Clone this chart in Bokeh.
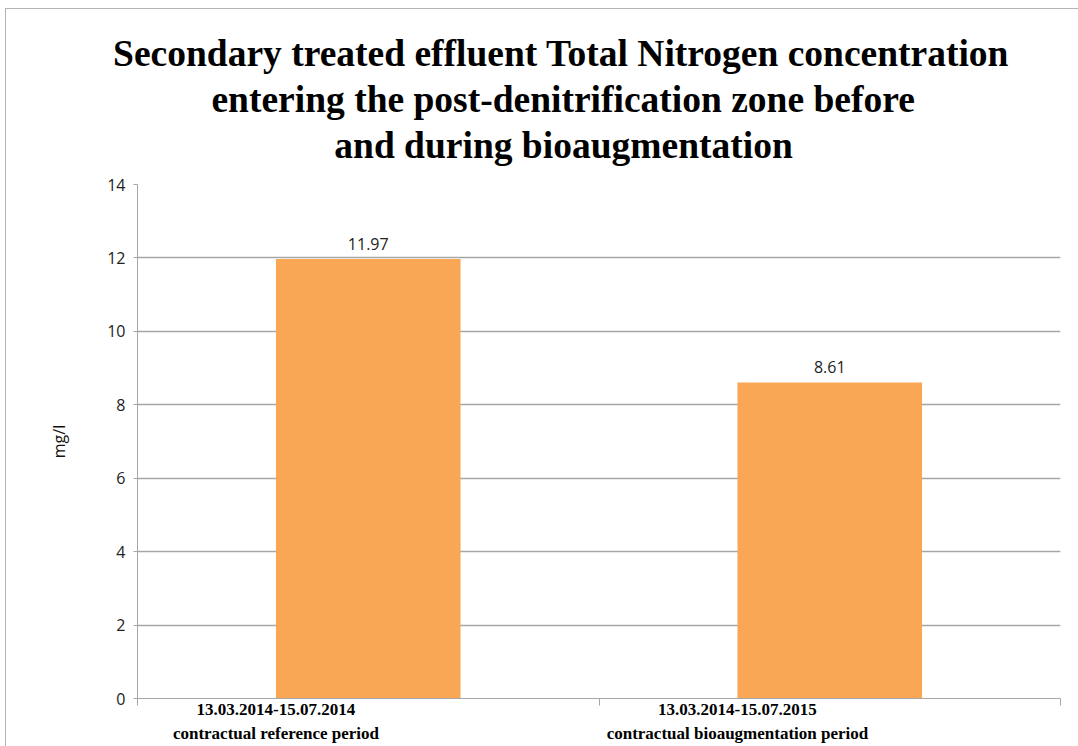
from bokeh.plotting import figure
from bokeh.models import Range1d, FixedTicker, LinearAxis, Title, ColumnDataSource
from bokeh.embed import file_html
from bokeh.resources import INLINE

# ---- data ----
categories = [
    "13.03.2014-15.07.2014\ncontractual reference period",
    "13.03.2014-15.07.2015\ncontractual bioaugmentation period",
]
values = [11.97, 8.61]
value_labels = ["11.97", "8.61"]
y_ticks = [0, 2, 4, 6, 8, 10, 12, 14]
title_lines = [
    "Secondary treated effluent Total Nitrogen concentration",
    "entering the post-denitrification zone before",
    "and during bioaugmentation",
]
y_label = "mg/l"

# ---- geometry helpers (category slots of width 10) ----
slot = 10
bar_w = 4
centers = [slot * i + slot / 2 for i in range(len(categories))]
lefts = [c - bar_w / 2 for c in centers]

GRID = "#a6a6a6"
ORANGE = "#FAA755"

FL, FR, FT, FB = 137, 18, 184, 46
W, H = 1078, 746
TITLE_PX = 37.5
TITLE_CENTER = 563

# approximate Times/Liberation Serif Bold advance widths (per 1000 em)
_TB = {' ': 250, '-': 333, 'S': 556, 'T': 667, 'N': 722, 'a': 500, 'b': 556, 'c': 444,
       'd': 556, 'e': 444, 'f': 333, 'g': 500, 'h': 556, 'i': 278, 'k': 556, 'l': 278,
       'm': 833, 'n': 556, 'o': 500, 'p': 556, 'r': 444, 's': 389, 't': 333, 'u': 556,
       'v': 500, 'y': 500, 'z': 444}


def text_w(s, px):
    return sum(_TB.get(ch, 500) for ch in s) / 1000 * px


p = figure(width=W, height=H, output_backend="svg", toolbar_location=None,
           title=None,
           x_range=Range1d(0, slot * len(categories)), y_range=Range1d(0, 14),
           min_border_left=FL, min_border_right=FR, min_border_top=FT,
           min_border_bottom=FB, outline_line_color=None,
           border_fill_color=None, background_fill_color="white",
           styles={"background": "linear-gradient(#b4b4b4,#b4b4b4) 5px 8px / 1px 100% no-repeat, "
                                 "linear-gradient(#b4b4b4,#b4b4b4) 5px 8px / 100% 1px no-repeat, white"})

src = ColumnDataSource(dict(x=centers, top=values, label=value_labels))
p.vbar(x="x", top="top", width=bar_w, source=src, fill_color=ORANGE, line_color=None)
p.text(x="x", y="top", text="label", source=src, text_align="center",
       text_baseline="bottom", y_offset=-9, text_font_size="16px",
       text_color="#222222", text_font={"value": "Open Sans"})

# y axis
ya = p.yaxis[0]
ya.ticker = FixedTicker(ticks=y_ticks)
ya.axis_line_color = GRID
ya.major_tick_line_color = GRID
ya.major_tick_out = 4
ya.major_tick_in = 0
ya.minor_tick_line_color = None
ya.major_label_text_font = "Open Sans"
ya.major_label_text_font_size = "16px"
ya.major_label_text_color = "#222222"
ya.major_label_standoff = 8
ya.axis_label = y_label
ya.axis_label_text_font = "Open Sans"
ya.axis_label_text_font_size = "16px"
ya.axis_label_text_font_style = "normal"
ya.axis_label_text_color = "#111111"
ya.axis_label_standoff = 34

# x axis: separators
xa = p.xaxis[0]
xa.ticker = FixedTicker(ticks=[slot * i for i in range(len(categories) + 1)])
xa.major_label_overrides = {slot * i: "" for i in range(len(categories) + 1)}
xa.major_label_text_font_size = "1px"
xa.major_label_standoff = -6
xa.axis_line_color = GRID
xa.major_tick_line_color = GRID
xa.major_tick_out = 7
xa.major_tick_in = 0
xa.minor_tick_line_color = None

# x axis: category labels (left aligned at bar left edge)
xa2 = LinearAxis(ticker=FixedTicker(ticks=lefts),
                 major_label_overrides={l: c for l, c in zip(lefts, categories)})
xa2.axis_line_color = None
xa2.major_tick_line_color = None
xa2.minor_tick_line_color = None
xa2.major_label_text_align = "left"
xa2.major_label_standoff = -12
xa2.major_label_text_font = "Liberation Serif"
xa2.major_label_text_font_style = "bold"
xa2.major_label_text_font_size = "17px"
xa2.major_label_text_color = "#000000"
xa2.major_label_text_line_height = 1.3
p.add_layout(xa2, "below")

p.xgrid.grid_line_color = None
p.ygrid.grid_line_color = GRID
p.ygrid.grid_line_width = 1.3

# invisible spacer panel between the frame and the title block
mid = slot * len(categories) / 2
spacer = LinearAxis(ticker=FixedTicker(ticks=[mid]), axis_line_color=None,
                    major_tick_line_color=None, minor_tick_line_color=None,
                    major_tick_out=17, major_tick_in=0, major_label_standoff=0,
                    major_label_overrides={mid: ""}, major_label_text_font_size="1px")
p.add_layout(spacer, "above")

# title lines, closest to the frame first
for line in reversed(title_lines):
    off = TITLE_CENTER - text_w(line, TITLE_PX) / 2 - FL
    p.add_layout(Title(text=line, align="left", offset=off,
                       text_font="Liberation Serif", text_font_style="bold",
                       text_font_size=f"{TITLE_PX}px", text_color="#000000",
                       standoff=3),
                 "above")

open("out.html", "w").write(file_html(p, INLINE))
